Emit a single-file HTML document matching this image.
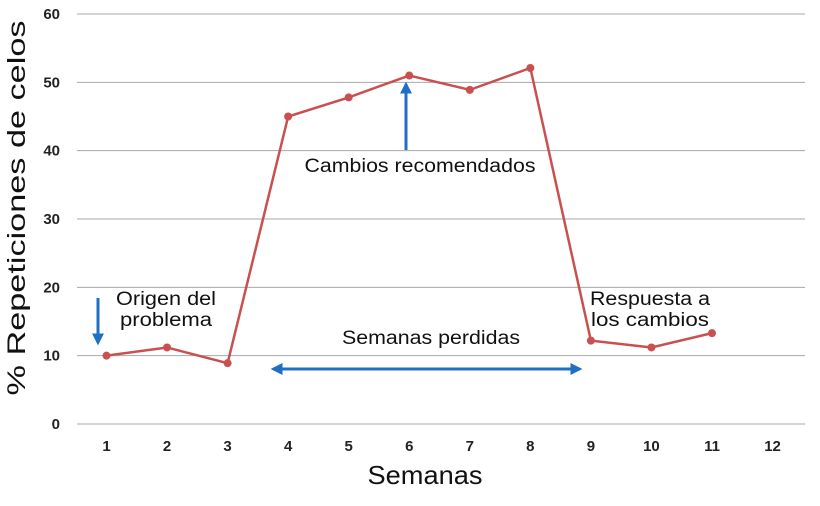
<!DOCTYPE html>
<html><head><meta charset="utf-8"><style>
body{margin:0;background:#fff;width:820px;height:501px;overflow:hidden;font-family:"Liberation Sans",sans-serif}
</style></head><body>
<svg id="chart" width="820" height="501" xmlns="http://www.w3.org/2000/svg">
<defs>
<marker id="ah" viewBox="0 0 10 10" refX="8" refY="5" markerWidth="4" markerHeight="4" orient="auto-start-reverse"><path d="M0,0 L10,5 L0,10 z" fill="#1f6fc4"/></marker>
</defs>
<g id="grid"></g><g id="ticks"></g>
<text transform="translate(25,208) rotate(-90)" text-anchor="middle" font-size="25" fill="#111" textLength="375" lengthAdjust="spacingAndGlyphs">% Repeticiones de celos</text>
<text x="425" y="484" text-anchor="middle" font-size="26" fill="#111" textLength="115" lengthAdjust="spacingAndGlyphs">Semanas</text>
<g id="series"></g>
<g font-size="19" fill="#111">
<line x1="98" y1="298" x2="98" y2="343" stroke="#1f6fc4" stroke-width="3" marker-end="url(#ah)"/>
<text x="166" y="305" text-anchor="middle" textLength="100" lengthAdjust="spacingAndGlyphs">Origen del</text>
<text x="166" y="326" text-anchor="middle" textLength="92" lengthAdjust="spacingAndGlyphs">problema</text>
<line x1="406" y1="150" x2="406" y2="84" stroke="#1f6fc4" stroke-width="3" marker-end="url(#ah)"/>
<text x="420" y="172" text-anchor="middle" textLength="231" lengthAdjust="spacingAndGlyphs">Cambios recomendados</text>
<line x1="273" y1="369" x2="580" y2="369" stroke="#1f6fc4" stroke-width="3" marker-start="url(#ah)" marker-end="url(#ah)"/>
<text x="431" y="344" text-anchor="middle" textLength="178" lengthAdjust="spacingAndGlyphs">Semanas perdidas</text>
<text x="650" y="305" text-anchor="middle" textLength="120" lengthAdjust="spacingAndGlyphs">Respuesta a</text>
<text x="650" y="326" text-anchor="middle" textLength="118" lengthAdjust="spacingAndGlyphs">los cambios</text>
</g>
</svg>
<script>
const weeks=[1,2,3,4,5,6,7,8,9,10,11];
const values=[10,11.2,8.9,45,47.8,51,48.9,52.1,12.2,11.2,13.3];
const xTicks=[1,2,3,4,5,6,7,8,9,10,11,12];
const yTicks=[0,10,20,30,40,50,60];
const NS="http://www.w3.org/2000/svg";
const x=w=>106.5+(w-1)*60.55;
const y=v=>424-v*6.833;
function mk(t,a,p){const e=document.createElementNS(NS,t);for(const k in a)e.setAttribute(k,a[k]);p.appendChild(e);return e;}
const grid=document.getElementById('grid'),ticks=document.getElementById('ticks'),ser=document.getElementById('series');
yTicks.forEach(v=>{
 const l=mk('line',{x1:77,x2:805,y1:y(v),y2:y(v),stroke:'#a8a8a8','stroke-width':1},grid);
 
 
 const t=mk('text',{x:60,y:y(v)+5,'text-anchor':'end','font-size':15,'font-weight':'bold',fill:'#222'},ticks);
 t.textContent=v;
 
 
});
xTicks.forEach(w=>{
 const t=mk('text',{x:x(w),y:451,'text-anchor':'middle','font-size':15,'font-weight':'bold',fill:'#222'},ticks);
 t.textContent=w;
 
 
});
const pl=mk('polyline',{points:weeks.map((w,i)=>x(w)+','+y(values[i])).join(' '),fill:'none',stroke:'#c9504f','stroke-width':2.5},ser);


weeks.forEach((w,i)=>{
 const c=mk('circle',{cx:x(w),cy:y(values[i]),r:4,fill:'#c9504f'},ser);
 
 
});
</script>
</body></html>
